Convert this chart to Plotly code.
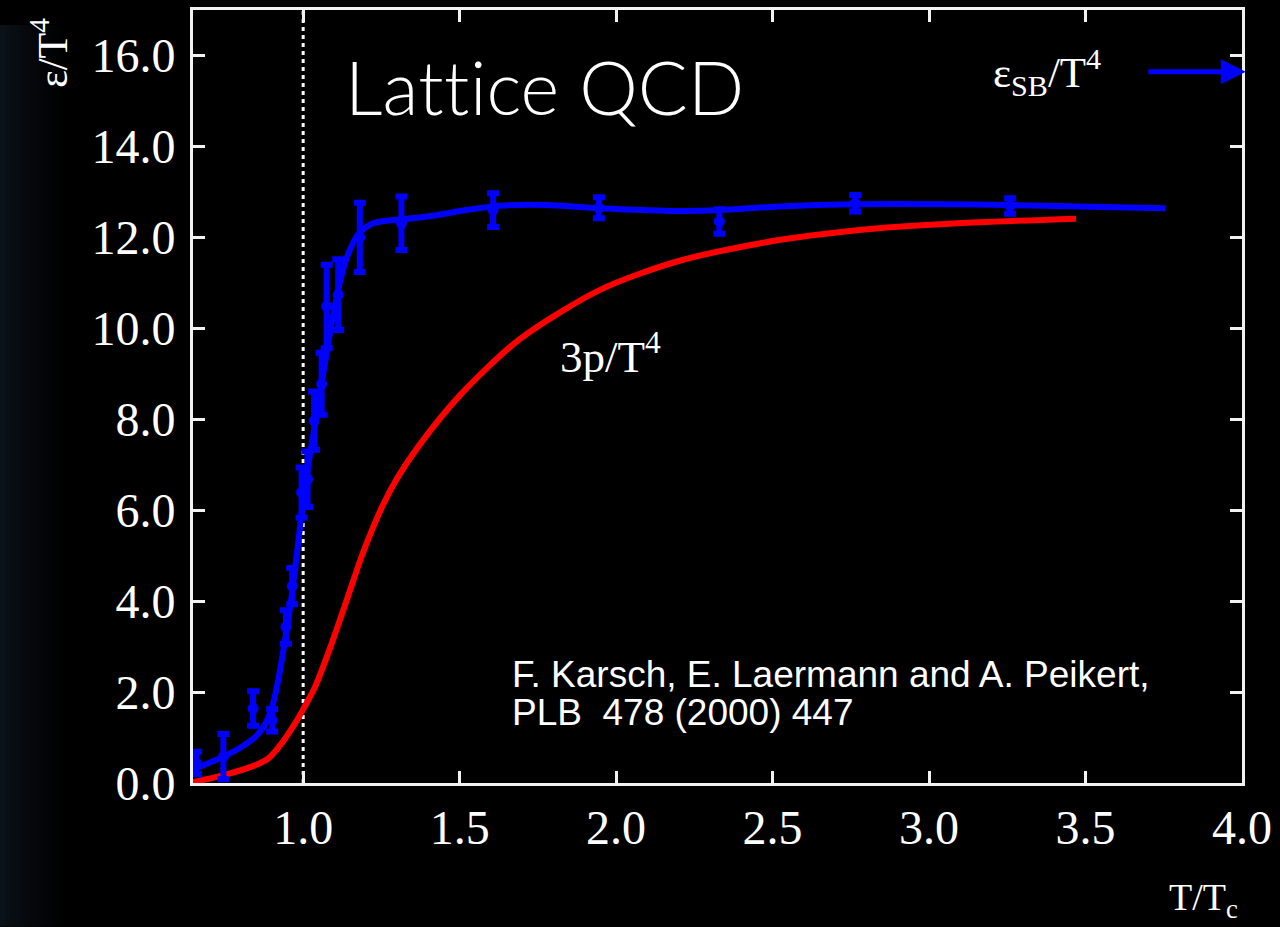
import plotly.graph_objects as go

# Lattice QCD energy density (2+1 flavours), epsilon/T^4 with errors
t_data = [0.658, 0.745, 0.840, 0.901, 0.945, 0.965, 0.995, 1.014, 1.035, 1.059,
          1.075, 1.112, 1.181, 1.314, 1.607, 1.945, 2.330, 2.764, 3.259]
eps_data = [0.44, 0.58, 1.64, 1.38, 3.43, 4.33, 6.39, 6.68, 7.97, 8.78,
            10.48, 10.74, 12.00, 12.31, 12.60, 12.65, 12.35, 12.75, 12.69]
eps_err = [0.25, 0.50, 0.38, 0.25, 0.37, 0.40, 0.55, 0.61, 0.64, 0.68,
           0.92, 0.78, 0.76, 0.59, 0.37, 0.23, 0.27, 0.18, 0.17]

# smooth interpolation through the energy density
t_fit = [0.648, 0.745, 0.800, 0.845, 0.875, 0.900, 0.920, 0.940, 0.960, 0.980,
         1.000, 1.020, 1.040, 1.060, 1.080, 1.100, 1.125, 1.150, 1.180, 1.220,
         1.270, 1.320, 1.420, 1.520, 1.640, 1.777, 1.947, 2.200, 2.330, 2.520,
         2.764, 3.054, 3.259, 3.479, 3.756]
eps_fit = [0.30, 0.58, 0.78, 1.00, 1.25, 1.65, 2.25, 3.05, 3.95, 5.05,
           6.20, 7.15, 7.98, 8.82, 9.66, 10.44, 11.22, 11.74, 12.10, 12.30,
           12.37, 12.40, 12.48, 12.60, 12.70, 12.71, 12.64, 12.58, 12.60, 12.68,
           12.73, 12.73, 12.71, 12.68, 12.64]

# pressure, 3p/T^4
t_p = [0.648, 0.750, 0.850, 0.889, 0.931, 0.974, 1.000, 1.037, 1.085, 1.139,
       1.192, 1.256, 1.300, 1.370, 1.500, 1.690, 1.950, 2.200, 2.520, 2.840,
       3.160, 3.470]
p3_vals = [0.02, 0.18, 0.40, 0.54, 0.87, 1.31, 1.62, 2.10, 2.95, 4.02,
           5.08, 6.13, 6.70, 7.42, 8.52, 9.75, 10.85, 11.48, 11.94, 12.20,
           12.33, 12.41]

# Stefan-Boltzmann limit and critical temperature marker
eps_sb = 15.64
t_sb_start = 3.696
t_sb_end = 4.012
t_c = 1.0

x_range = [0.648, 4.0]
y_range = [0.0, 17.0]
x_ticks = [1.0, 1.5, 2.0, 2.5, 3.0, 3.5, 4.0]
y_ticks = [0.0, 2.0, 4.0, 6.0, 8.0, 10.0, 12.0, 14.0, 16.0]

BLUE = "#0000ff"
RED = "#ff0000"
AX = "#f2f2f2"
SERIF = "Liberation Serif, Times New Roman, serif"
NARROW = "Liberation Sans Narrow, Liberation Sans, sans-serif"

W, H = 1280, 927
ML, MR, MT, MB = 193, 38, 7, 144
PW, PH = W - ML - MR, H - MT - MB


def px(xp):
    return (xp - ML) / PW


def py(yp):
    return (H - MB - yp) / PH


fig = go.Figure()

# critical temperature
fig.add_trace(go.Scatter(
    x=[t_c, t_c], y=y_range, mode="lines",
    line=dict(color="white", width=3, dash="4px,4px"),
    hoverinfo="skip", showlegend=False,
))

fig.add_trace(go.Scatter(
    x=t_p, y=p3_vals, mode="lines",
    line=dict(color=RED, width=6, shape="spline", smoothing=0.8),
    showlegend=False,
))

fig.add_trace(go.Scatter(
    x=t_fit, y=eps_fit, mode="lines",
    line=dict(color=BLUE, width=6, shape="spline", smoothing=0.8),
    showlegend=False,
))

fig.add_trace(go.Scatter(
    x=t_data, y=eps_data, mode="markers",
    marker=dict(color=BLUE, size=11),
    error_y=dict(type="data", array=eps_err, color=BLUE, thickness=6, width=6),
    showlegend=False,
))

# faint dark-blue haze along the left edge of the canvas
n_steps = 14
for i in range(n_steps):
    x0 = i * 5
    fig.add_shape(type="rect", xref="paper", yref="paper",
                  x0=px(x0), x1=px(x0 + 5), y0=py(H), y1=py(22),
                  fillcolor="#15222f", opacity=0.5 * (1 - i / n_steps) ** 1.5,
                  line_width=0, layer="below")

annotations = [
    # a touch of letter spacing keeps the two t's as separate glyphs
    dict(text="La<span style='letter-spacing:0.5px'>tt</span>ice QCD",
         x=px(344), y=py(84), xanchor="left", yanchor="middle",
         font=dict(family="Lato, Roboto, sans-serif", size=74, color="white", weight=300)),
    dict(text="ε<sub>SB</sub>/T<sup>4</sup>", x=px(1047), y=py(70),
         xanchor="center", yanchor="middle",
         font=dict(family=SERIF, size=43, color="white")),
    dict(text="3p/T<sup>4</sup>", x=px(610), y=py(352), xanchor="center", yanchor="middle",
         font=dict(family=SERIF, size=45, color="white")),
    dict(text="F. Karsch, E. Laermann and A. Peikert,", x=px(511), y=py(674),
         xanchor="left", yanchor="middle",
         font=dict(family=NARROW, size=37, color="white")),
    dict(text="PLB  478 (2000) 447", x=px(511), y=py(712),
         xanchor="left", yanchor="middle",
         font=dict(family=NARROW, size=37, color="white")),
    dict(text="T/T<sub>c</sub>", x=px(1203), y=py(900), xanchor="center", yanchor="middle",
         font=dict(family=SERIF, size=38, color="white")),
    dict(text="ε/T<sup>4</sup>", x=px(50), y=py(50), xanchor="center", yanchor="middle",
         textangle=-90, font=dict(family=SERIF, size=42, color="white")),
]
for a in annotations:
    a.update(xref="paper", yref="paper", showarrow=False, borderpad=0)
    fig.add_annotation(**a)

# arrow pointing to the Stefan-Boltzmann limit
fig.add_annotation(
    x=t_sb_end, y=eps_sb, ax=t_sb_start, ay=eps_sb,
    xref="x", yref="y", axref="x", ayref="y",
    text="", showarrow=True, arrowhead=2, arrowsize=1.0, arrowwidth=5,
    arrowcolor=BLUE,
)

axis_common = dict(
    showgrid=False, zeroline=False, showline=True, linecolor=AX, linewidth=3,
    mirror="ticks", ticks="inside", ticklen=12, tickwidth=3, tickcolor=AX,
    tickfont=dict(family=SERIF, size=48, color="white"),
)

fig.update_xaxes(range=x_range, tickvals=x_ticks,
                 ticktext=[f"{v:.1f}" for v in x_ticks], **axis_common)
fig.update_yaxes(range=y_range, tickvals=y_ticks,
                 ticktext=[f"{v:.1f}" for v in y_ticks], ticklabelstandoff=5,
                 **axis_common)

fig.update_layout(
    width=W, height=H, autosize=False,
    margin=dict(l=ML, r=MR, t=MT, b=MB, pad=0),
    paper_bgcolor="black", plot_bgcolor="black",
    showlegend=False,
)

fig.write_html("out.html")
